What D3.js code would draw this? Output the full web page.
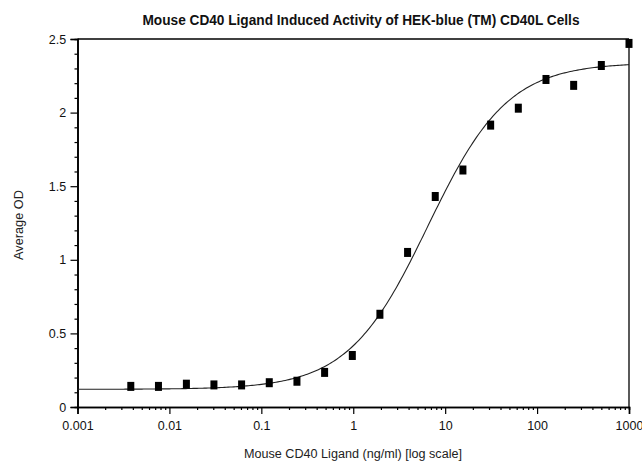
<!DOCTYPE html>
<html>
<head>
<meta charset="utf-8">
<script src="https://cdn.jsdelivr.net/npm/d3@7/dist/d3.min.js"></script>
<style>
html,body{margin:0;padding:0;background:#fff;}
svg{display:block;font-family:"Liberation Sans",Arial,sans-serif;}
</style>
</head>
<body>
<svg id="chart" width="642" height="466"></svg>
<script>
// Data
const concentrations = [0.0038, 0.0076, 0.0153, 0.0305, 0.061, 0.122, 0.244, 0.488, 0.977, 1.95, 3.9, 7.8, 15.6, 31.25, 62.5, 125, 250, 500, 1000];
const averageOD = [0.14, 0.14, 0.155, 0.15, 0.15, 0.165, 0.175, 0.235, 0.35, 0.63, 1.05, 1.43, 1.61, 1.915, 2.03, 2.225, 2.185, 2.32, 2.47];
// 4-parameter logistic fit parameters
const fitBottom = 0.12, fitTop = 2.34, fitEC50 = 6.5, fitHill = 1.0;
const xTickValues = [0.001, 0.01, 0.1, 1, 10, 100, 1000];
const xTickLabels = ["0.001", "0.01", "0.1", "1", "10", "100", "1000"];
const yTickValues = [0, 0.5, 1, 1.5, 2, 2.5];
const yTickLabels = ["0", "0.5", "1", "1.5", "2", "2.5"];

const svg = d3.select("#chart");
const L = 77.5, R = 629, T = 39, B = 407;
const x = d3.scaleLog().domain([0.001, 1000]).range([L, R]);
const y = d3.scaleLinear().domain([0, 2.5]).range([B, T]);

// Title
svg.append("text").attr("x", 361).attr("y", 25).attr("text-anchor", "middle")
  .attr("font-size", 14).attr("font-weight", "bold").attr("fill", "#111")
  .attr("textLength", 437).attr("lengthAdjust", "spacingAndGlyphs")
  .text("Mouse CD40 Ligand Induced Activity of HEK-blue (TM) CD40L Cells");

// frame top & right
svg.append("line").attr("x1", L).attr("x2", R).attr("y1", T).attr("y2", T).attr("stroke", "#000").attr("stroke-width", 1.3);
svg.append("line").attr("x1", R).attr("x2", R).attr("y1", T).attr("y2", B).attr("stroke", "#000").attr("stroke-width", 1.3);

// X axis
const minorX = [];
for (let e = -3; e < 3; e++) for (let m = 2; m <= 9; m++) minorX.push(m * Math.pow(10, e));
const gx = svg.append("g").attr("transform", `translate(0,${B})`);
gx.call(d3.axisBottom(x).tickValues(minorX).tickSize(3).tickFormat(""));
gx.call(g => g.append("g").call(d3.axisBottom(x).tickValues(xTickValues).tickSize(7)
  .tickFormat((d, i) => xTickLabels[i])));
gx.selectAll(".domain").attr("stroke", "#000").attr("stroke-width", 1.6);
gx.selectAll("line").attr("stroke", "#000").attr("stroke-width", 1.2);
gx.selectAll("text").attr("font-size", 12.5).attr("fill", "#111").attr("font-family", "'Liberation Sans',Arial,sans-serif").attr("dy", "1.0em");

// Y axis
const minorY = d3.range(0, 2.51, 0.1).filter(v => Math.abs(v * 2 - Math.round(v * 2)) > 1e-6);
const gy = svg.append("g").attr("transform", `translate(${L},0)`);
gy.call(d3.axisLeft(y).tickValues(minorY).tickSize(3).tickFormat(""));
gy.call(g => g.append("g").call(d3.axisLeft(y).tickValues(yTickValues).tickSize(7)
  .tickFormat((d, i) => yTickLabels[i])));
gy.selectAll(".domain").attr("stroke", "#000").attr("stroke-width", 1.6);
gy.selectAll("line").attr("stroke", "#000").attr("stroke-width", 1.2);
gy.selectAll("text").attr("font-size", 12.5).attr("fill", "#111").attr("font-family", "'Liberation Sans',Arial,sans-serif").attr("dx", "-0.1em");

// Axis titles
svg.append("text").attr("x", 353).attr("y", 458).attr("text-anchor", "middle")
  .attr("font-size", 12.5).attr("fill", "#222")
  .attr("textLength", 218).attr("lengthAdjust", "spacingAndGlyphs")
  .text("Mouse CD40 Ligand (ng/ml) [log scale]");
svg.append("text").attr("transform", "translate(23,225) rotate(-90)").attr("text-anchor", "middle")
  .attr("font-size", 12.5).attr("fill", "#222")
  .attr("textLength", 70).attr("lengthAdjust", "spacingAndGlyphs")
  .text("Average OD");

// Fit curve
const curveX = d3.range(-3, 3.0001, 0.02).map(e => Math.pow(10, e));
const fit = c => fitBottom + (fitTop - fitBottom) / (1 + Math.pow(fitEC50 / c, fitHill));
svg.append("path").datum(curveX)
  .attr("d", d3.line().x(d => x(d)).y(d => y(fit(d))))
  .attr("fill", "none").attr("stroke", "#222").attr("stroke-width", 1.1);

// Points
const pts = concentrations.map((c, i) => ({ c, v: averageOD[i] }));
svg.selectAll("rect.pt").data(pts).enter().append("rect").attr("class", "pt")
  .attr("x", d => x(d.c) - 3.5).attr("y", d => y(d.v) - 4.5)
  .attr("width", 7).attr("height", 9).attr("fill", "#000");
</script>
</body>
</html>
